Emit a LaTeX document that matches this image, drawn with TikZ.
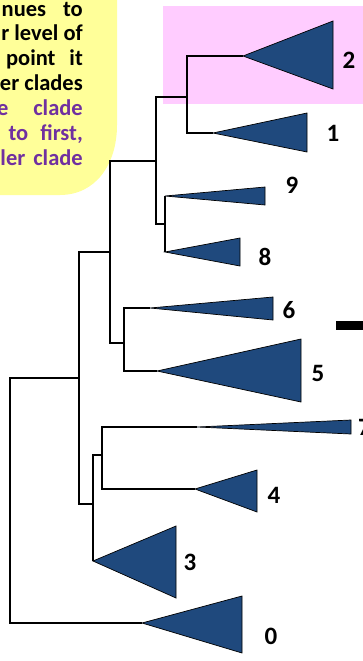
\documentclass[tikz,border=0pt]{standalone}
\usepackage{fontspec}
\setmainfont{Carlito}
\definecolor{notefill}{HTML}{FFFF99}
\definecolor{hilite}{HTML}{FFCCFF}
\definecolor{cladeblue}{HTML}{1F497D}
\definecolor{notepurple}{HTML}{7030A0}
\tikzset{
  branch/.style={line width=1.2pt, draw=black},
  clade/.style={fill=cladeblue, draw=black, line width=0.7pt, line join=miter},
  leaflabel/.style={font=\fontsize{25}{30}\selectfont\bfseries, anchor=base, inner sep=0pt},
  notetext/.style={font=\fontsize{22.5}{26}\selectfont\bfseries, anchor=base east, inner sep=0pt},
}
\begin{document}
\begin{tikzpicture}[x=1pt, y=-1pt]
\useasboundingbox (0,0) rectangle (362,661);

% note box (top left) and highlight band
\fill[notefill] (-10,-10) -- (117,-10) -- (117,125)
  .. controls (117,165) and (95,195) .. (60,195) -- (-10,195) -- cycle;
\fill[hilite] (163,6) rectangle (370,104);

\node[notetext] (n1) at (83,17) {nues\hspace{17pt}to};
\node[notetext] (n2) at (83,41) {r level of};
\node[notetext] (n3) at (83,66) {point\hspace{14pt}it};
\node[notetext] (n4) at (83,90) {er clades};
\node[notetext, text=notepurple] (n5) at (83,115) {e\hspace{25pt}clade};
\node[notetext, text=notepurple] (n6) at (83,140) {to\hspace{12pt}first,};
\node[notetext, text=notepurple] (n7) at (83,165) {ler\hspace{8pt}clade};

% clade tips
\coordinate (t2) at (243,56);
\coordinate (t1) at (213,133);
\coordinate (t9) at (165,196);
\coordinate (t8) at (165,252);
\coordinate (t6) at (150,308);
\coordinate (t5) at (157,371);
\coordinate (t7) at (197,427);
\coordinate (t4) at (195,489);
\coordinate (t3) at (93,561);
\coordinate (t0) at (142,623);

% internal nodes
\coordinate (a21) at (187,97);
\coordinate (a98) at (165,224);
\coordinate (a2198) at (156,161);
\coordinate (a65) at (124,343);
\coordinate (aUp) at (110,252);
\coordinate (a74) at (102,455);
\coordinate (a743) at (93,504);
\coordinate (aIn) at (79,378);
\coordinate (root) at (10,500);

% branches
\draw[branch] (a21) |- (t2);
\draw[branch] (a21) |- (t1);
\draw[branch] (a98) |- (t9);
\draw[branch] (a98) |- (t8);
\draw[branch] (a2198) |- (a21);
\draw[branch] (a2198) |- (a98);
\draw[branch] (a65) |- (t6);
\draw[branch] (a65) |- (t5);
\draw[branch] (aUp) |- (a2198);
\draw[branch] (aUp) |- (a65);
\draw[branch] (a74) |- (t7);
\draw[branch] (a74) |- (t4);
\draw[branch] (a743) |- (a74);
\draw[branch] (a743) |- (t3);
\draw[branch] (aIn) |- (aUp);
\draw[branch] (aIn) |- (a743);
\draw[branch] (root) |- (aIn);
\draw[branch] (root) |- (t0);

% collapsed clades
\draw[clade] (t2) -- (333,21) -- (333,89) -- cycle;
\draw[clade] (t1) -- (307,113) -- (307,152) -- cycle;
\draw[clade] (t9) -- (265,187) -- (265,205) -- cycle;
\draw[clade] (t8) -- (240,238) -- (240,266) -- cycle;
\draw[clade] (t6) -- (273,297) -- (273,320) -- cycle;
\draw[clade] (t5) -- (301,339) -- (301,402) -- cycle;
\draw[clade] (t7) -- (351,420) -- (351,434) -- cycle;
\draw[clade] (t4) -- (257,470) -- (257,512) -- cycle;
\draw[clade] (t3) -- (176,526) -- (176,598) -- cycle;
\draw[clade] (t0) -- (242,596) -- (242,653) -- cycle;

% clade labels
\node[leaflabel] (l2) at (349,68) {2};
\node[leaflabel] (l1) at (333,141) {1};
\node[leaflabel] (l9) at (292,193) {9};
\node[leaflabel] (l8) at (265,265) {8};
\node[leaflabel] (l6) at (289,318) {6};
\node[leaflabel] (l5) at (318,381) {5};
\node[leaflabel, anchor=base west] (l7) at (358,435) {7};
\node[leaflabel] (l4) at (274,503) {4};
\node[leaflabel] (l3) at (190,570) {3};
\node[leaflabel] (l0) at (271,644) {0};

% scale bar
\fill[black] (336,321) rectangle (370,330);
\end{tikzpicture}
\end{document}
